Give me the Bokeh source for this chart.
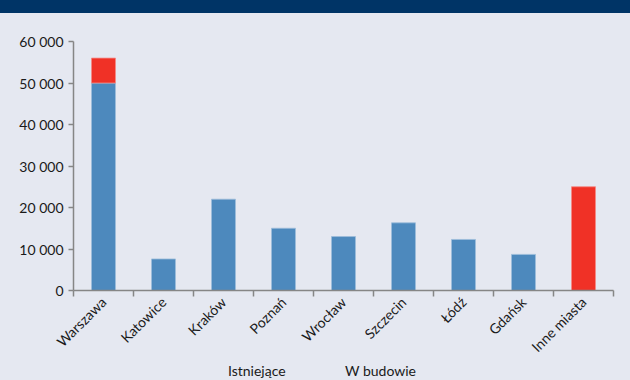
import math
from bokeh.plotting import figure
from bokeh.models import FixedTicker, Div
from bokeh.layouts import column
from bokeh.embed import file_html
from bokeh.resources import INLINE

categories = ["Warszawa", "Katowice", "Kraków", "Poznań", "Wrocław", "Szczecin", "Łódź", "Gdańsk", "Inne miasta"]
istniejace = [50000, 7600, 22000, 15000, 13000, 16300, 12300, 8700, 0]
w_budowie = [6000, 0, 0, 0, 0, 0, 0, 0, 25000]
y_ticks = [0, 10000, 20000, 30000, 40000, 50000, 60000]
y_tick_labels = ["0", "10 000", "20 000", "30 000", "40 000", "50 000", "60 000"]
series_names = ["Istniejące", "W budowie"]

BG = "#e5e8f1"
BLUE = "#4d89bd"
RED = "#f03126"
FONT = "Lato"

xs = [i + 0.5 for i in range(len(categories))]

p = figure(width=630, height=351, output_backend="svg", toolbar_location=None,
           x_range=(0, len(categories)), y_range=(0, 60000),
           min_border_left=73, min_border_right=17, min_border_top=28, min_border_bottom=74)
p.background_fill_color = BG
p.background_fill_alpha = 0
p.border_fill_color = BG
p.styles = {"background-color": BG}
p.outline_line_color = None
p.grid.visible = False

# existing (bottom segment)
a_x = [x for x, v in zip(xs, istniejace) if v > 0]
a_top = [v for v in istniejace if v > 0]
p.vbar(x=a_x, bottom=0, top=a_top, width=0.4, fill_color=BLUE,
       line_color="#9dbddb", line_width=1, line_alpha=0.8)
# under construction (stacked on top)
b_x = [x for x, v in zip(xs, w_budowie) if v > 0]
b_bottom = [a for a, v in zip(istniejace, w_budowie) if v > 0]
b_top = [a + v for a, v in zip(istniejace, w_budowie) if v > 0]
p.vbar(x=b_x, bottom=b_bottom, top=b_top, width=0.4, fill_color=RED,
       line_color="#f58a84", line_width=1, line_alpha=0.8)

# y axis
ya = p.yaxis[0]
ya.ticker = FixedTicker(ticks=y_ticks, minor_ticks=[])
ya.major_label_overrides = {t: l for t, l in zip(y_ticks, y_tick_labels)}
ya.axis_line_color = "#868686"
ya.axis_line_width = 1.5
ya.major_tick_line_color = "#868686"
ya.major_tick_line_width = 1.5
ya.major_tick_out = 5
ya.major_tick_in = 0
ya.minor_tick_line_color = None
ya.major_label_text_font = FONT
ya.major_label_text_font_size = "14px"
ya.major_label_text_color = "#1a1a1a"
ya.major_label_standoff = 5

# x axis
xa = p.xaxis[0]
xa.ticker = FixedTicker(ticks=xs, minor_ticks=list(range(len(categories) + 1)))
xa.major_label_overrides = {x: c for x, c in zip(xs, categories)}
xa.major_tick_line_color = None
xa.minor_tick_line_color = "#868686"
xa.minor_tick_line_width = 1.5
xa.minor_tick_out = 6
xa.minor_tick_in = 0
xa.axis_line_color = "#868686"
xa.axis_line_width = 1.5
xa.major_label_orientation = math.pi / 4
xa.major_label_text_font = FONT
xa.major_label_text_font_size = "14px"
xa.major_label_text_color = "#1a1a1a"
xa.major_label_standoff = 3

band = Div(width=630, height=13, styles={"background-color": "#003466", "margin": "0"})

legend_pos = [228, 345]
spans = "".join(
    f'<span style="position:absolute;left:{x}px;top:-3px;line-height:20px">{n}</span>'
    for n, x in zip(series_names, legend_pos))
legend_div = Div(width=630, height=16, text=spans,
                 styles={"background-color": BG, "margin": "0", "font-family": FONT,
                         "font-size": "14px", "color": "#1a1a1a", "position": "relative"})

layout = column(band, p, legend_div, spacing=0)

open("out.html", "w").write(file_html(layout, INLINE))
